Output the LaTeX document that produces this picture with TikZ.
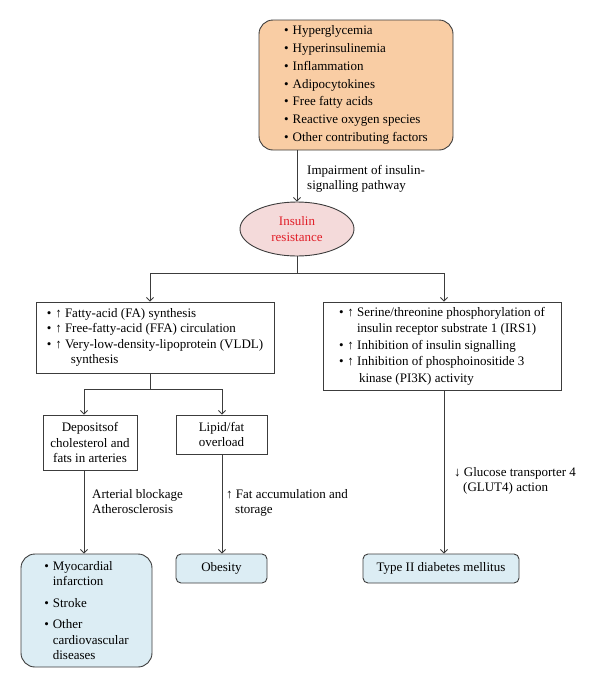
\documentclass[tikz,border=0pt]{standalone}
\usepackage{fontspec}
\setmainfont{Liberation Serif}
\usetikzlibrary{arrows.meta,shapes.geometric}
\definecolor{peach}{RGB}{249,205,164}
\definecolor{lblue}{RGB}{220,237,244}
\definecolor{lpink}{RGB}{244,218,218}
\definecolor{redtxt}{RGB}{225,30,40}
\definecolor{edge}{RGB}{60,60,60}
\newcommand\bul{\makebox[8.5pt][l]{\textbullet}}
\tikzset{
  box/.style={draw=edge, line width=0.9pt, inner sep=0pt, align=left},
  rbox/.style={box, rounded corners=14pt},
  sbox/.style={box, rounded corners=5pt},
  lbl/.style={anchor=west, align=left, inner sep=0pt, font=\fontsize{13}{15}\selectfont},
  conn/.style={draw=edge, line width=0.9pt},
  arr/.style={conn, -{Straight Barb[length=3.5pt,width=7pt]}},
}
\begin{document}
\begin{tikzpicture}[x=1pt,y=-1pt, font=\fontsize{13}{15.5}\selectfont]
\useasboundingbox (0,0) rectangle (600,689);
\node[rbox, fill=peach, minimum width=194pt, minimum height=130pt, font=\fontsize{13}{17.8}\selectfont] (top) at (356,85)
 {\bul Hyperglycemia\\ \bul Hyperinsulinemia\\ \bul Inflammation\\ \bul Adipocytokines\\ \bul Free fatty acids\\ \bul Reactive oxygen species\\ \bul Other contributing factors};
\node[ellipse, draw=edge, line width=0.9pt, fill=lpink, minimum width=114pt, minimum height=54pt, inner sep=0pt, align=center, text=redtxt] (ir) at (297,229)
 {Insulin\\ resistance};
\node[lbl] (imp) at (307,179) {Impairment of insulin-\\ signalling pathway};

\node[box, minimum width=238pt, minimum height=71pt] (lb) at (155,337.5)
 {\bul ↑ Fatty-acid (FA) synthesis\\ \bul ↑ Free-fatty-acid (FFA) circulation\\ \bul ↑ Very-low-density-lipoprotein (VLDL)\\ \hspace*{24pt}synthesis};
\node[box, minimum width=238pt, minimum height=88pt, font=\fontsize{13}{16.5}\selectfont] (rb) at (442,346)
 {\bul ↑ Serine/threonine phosphorylation of\\ \hspace*{18pt}insulin receptor substrate 1 (IRS1)\\ \bul ↑ Inhibition of insulin signalling\\ \bul ↑ Inhibition of phosphoinositide 3\\ \hspace*{20pt}kinase (PI3K) activity};

\node[box, minimum width=94pt, minimum height=55pt, align=center] (dep) at (90,442.5)
 {Depositsof\\ cholesterol and\\ fats in arteries};
\node[box, minimum width=91pt, minimum height=39pt, align=center] (lip) at (221.5,434.5)
 {Lipid/fat\\ overload};

\node[rbox, fill=lblue, minimum width=131pt, minimum height=113pt] (myo) at (86.5,610.5)
 {\bul Myocardial\\ \hspace*{8.5pt}infarction\\[6pt] \bul Stroke\\[6pt] \bul Other\\ \hspace*{8.5pt}cardiovascular\\ \hspace*{8.5pt}diseases};
\node[sbox, fill=lblue, minimum width=91pt, minimum height=29pt, align=center] (ob) at (221.5,568.5) {Obesity};
\node[sbox, fill=lblue, minimum width=156pt, minimum height=29pt, align=center] (t2) at (441,568.5) {Type II diabetes mellitus};

\node[lbl] (art) at (92,501.5) {Arterial blockage\\ Atherosclerosis};
\node[lbl] (fat) at (226,502.5) {↑ Fat accumulation and\\ \hspace*{9pt}storage};
\node[lbl] (glu) at (454,480.5) {↓ Glucose transporter 4\\ \hspace*{9pt}(GLUT4) action};

\coordinate (j1) at (297,273);
\coordinate (j2) at (150,389);
\draw[arr] (ir.north |- top.south) -- (ir.north);
\draw[conn] (ir.south) -- (j1);
\draw[arr] (j1) -| ([xshift=-5pt]lb.north);
\draw[arr] (j1) -| ([xshift=2pt]rb.north);
\draw[conn] (j2 |- lb.south) -- (j2);
\draw[arr] (j2) -| ([xshift=-6pt]dep.north);
\draw[arr] (j2) -| ([xshift=0.5pt]lip.north);
\draw[arr] ([xshift=-6pt]dep.south) -- ([xshift=-6pt]dep.south |- myo.north);
\draw[arr] ([xshift=0.5pt]lip.south) -- ([xshift=0.5pt]lip.south |- ob.north);
\draw[arr] ([xshift=2pt]rb.south) -- ([xshift=2pt]rb.south |- t2.north);
\end{tikzpicture}
\end{document}
